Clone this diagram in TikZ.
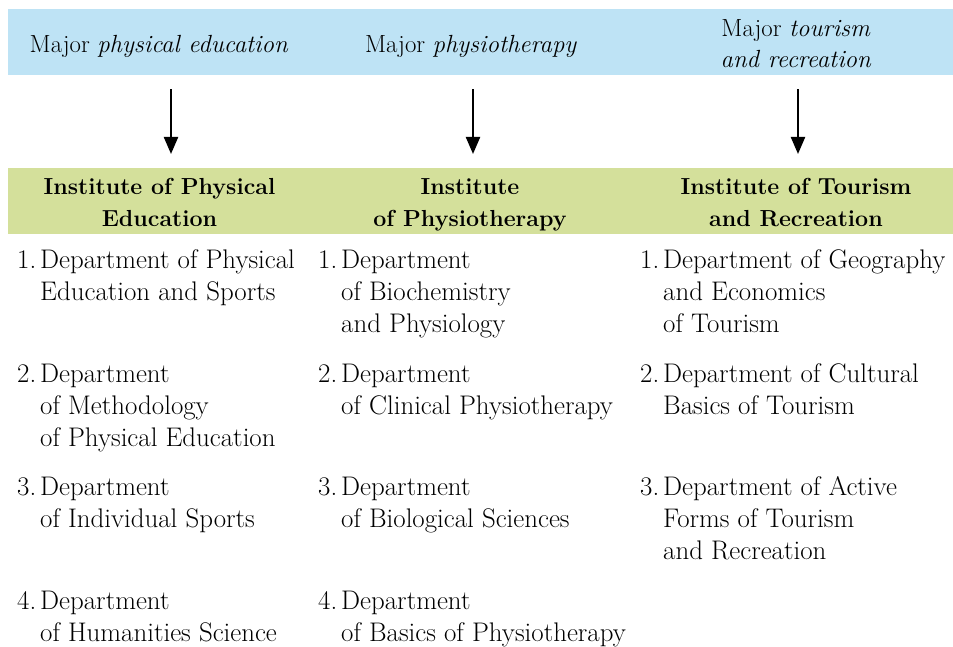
\documentclass[tikz,border=0pt]{standalone}
\usetikzlibrary{arrows.meta,positioning}
\definecolor{majorblue}{HTML}{BEE3F5}
\definecolor{instgreen}{HTML}{D4E09B}
\newcommand{\stacklines}[1]{\begin{tabular}[t]{@{}c@{}}#1\end{tabular}}
\newcommand{\deptitem}[2]{\begin{tabular}[t]{@{}p{23pt}@{}l@{}}#1&#2\end{tabular}}
\tikzset{
  band/.style={anchor=north west, inner sep=0pt, minimum width=945pt, minimum height=66pt},
  major/.style={inner sep=0pt, font=\fontsize{24.8}{31}\selectfont},
  inst/.style={anchor=north, inner sep=0pt, font=\bfseries\fontsize{23.2}{32}\selectfont},
  dept/.style={anchor=north west, inner sep=0pt, font=\fontsize{26.9}{32}\selectfont},
  arr/.style={-{Triangle[width=14pt,length=17pt]}, line width=2.2pt, shorten <=14pt, shorten >=14pt}
}
\begin{document}
\begin{tikzpicture}[x=1pt,y=-1pt]
\useasboundingbox (0,0) rectangle (953,647);
% coloured bands
\node[band, fill=majorblue] (majband) at (8,9) {};
\node[band, fill=instgreen] (instband) at (8,168) {};
% majors
\node[major, anchor=base] (majpe) at (159,53) {Major \textit{physical education}};
\node[major, anchor=base] (majph) at (471,53) {Major \textit{physiotherapy}};
\node[major, anchor=north] (majtr) at (796,14.3) {\stacklines{Major \textit{tourism}\\\textit{and recreation}}};
% institutes
\node[inst] (instpe) at (159.5,171.6) {\stacklines{Institute of Physical\\Education}};
\node[inst] (instph) at (470,171.6) {\stacklines{Institute\\of Physiotherapy}};
\node[inst] (insttr) at (796,171.6) {\stacklines{Institute of Tourism\\and Recreation}};
% arrows
\coordinate (a1) at (171,0);
\coordinate (a2) at (473,0);
\coordinate (a3) at (798,0);
\draw[arr] (majband.south -| a1) -- (instband.north -| a1);
\draw[arr] (majband.south -| a2) -- (instband.north -| a2);
\draw[arr] (majband.south -| a3) -- (instband.north -| a3);
% departments, physical education
\node[dept] (pe1) at (17,245.6) {\deptitem{1.}{Department of Physical\\&Education and Sports}};
\node[dept] (pe2) at (17,359.6) {\deptitem{2.}{Department\\&of Methodology\\&of Physical Education}};
\node[dept] (pe3) at (17,472.6) {\deptitem{3.}{Department\\&of Individual Sports}};
\node[dept] (pe4) at (17,586.6) {\deptitem{4.}{Department\\&of Humanities Science}};
% departments, physiotherapy
\node[dept] (ph1) at (318,245.6) {\deptitem{1.}{Department\\&of Biochemistry\\&and Physiology}};
\node[dept] (ph2) at (318,359.6) {\deptitem{2.}{Department\\&of Clinical Physiotherapy}};
\node[dept] (ph3) at (318,472.6) {\deptitem{3.}{Department\\&of Biological Sciences}};
\node[dept] (ph4) at (318,586.6) {\deptitem{4.}{Department\\&of Basics of Physiotherapy}};
% departments, tourism
\node[dept] (tr1) at (640,245.6) {\deptitem{1.}{Department of Geography\\&and Economics\\&of Tourism}};
\node[dept] (tr2) at (640,359.6) {\deptitem{2.}{Department of Cultural\\&Basics of Tourism}};
\node[dept] (tr3) at (640,472.6) {\deptitem{3.}{Department of Active\\&Forms of Tourism\\&and Recreation}};
\end{tikzpicture}
\end{document}
